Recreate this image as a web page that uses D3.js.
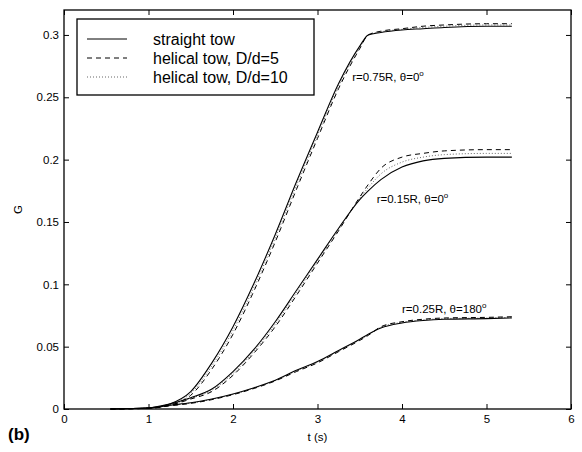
<!DOCTYPE html>
<html lang="en">
<head>
	<meta charset="UTF-8">
	<title>G vs t</title>
	<script src="https://cdn.jsdelivr.net/npm/d3@7"></script>
	<style>
		body {
			margin: 0;
			background-color: #ffffff;
		}
		.axis text {
			font-family: 'Liberation Sans', Arial, sans-serif;
			font-size: 11.5px;
			fill: #000;
		}
		.axis line {
			stroke: #000;
			stroke-width: 1px;
		}
		.axis path {
			display: none;
		}
		.curve {
			fill: none;
			stroke: #000;
			stroke-width: 1px;
		}
		.note {
			font-family: 'Liberation Sans', Arial, sans-serif;
			font-size: 11.5px;
			fill: #000;
		}
		.legend text {
			font-family: 'Liberation Sans', Arial, sans-serif;
			font-size: 16px;
			fill: #000;
		}
	</style>
</head>
<body>
<script>

	// sample times (s)
	var times = [0.55, 1.0, 1.25, 1.5, 1.75, 2.0, 2.25, 2.5, 2.75, 3.0, 3.25, 3.5, 3.6, 3.75, 4.0, 4.25, 4.5, 5.0, 5.3];

	// r=0.75R, theta=0
	var g75Straight = [0, 0.0008, 0.004, 0.014, 0.037, 0.066, 0.101, 0.140, 0.182, 0.222, 0.261, 0.291, 0.300, 0.302, 0.304, 0.305, 0.306, 0.307, 0.307];
	var g75Helix5   = [0, 0.0006, 0.003, 0.011, 0.032, 0.060, 0.095, 0.134, 0.176, 0.217, 0.257, 0.289, 0.300, 0.303, 0.305, 0.307, 0.308, 0.309, 0.309];
	var g75Helix10  = [0, 0.0007, 0.0035, 0.0125, 0.0345, 0.063, 0.098, 0.137, 0.179, 0.2195, 0.259, 0.290, 0.300, 0.3025, 0.3045, 0.306, 0.307, 0.308, 0.308];

	// r=0.15R, theta=0
	var g15Straight = [0, 0.0008, 0.004, 0.009, 0.016, 0.030, 0.048, 0.070, 0.095, 0.120, 0.145, 0.168, 0.175, 0.184, 0.194, 0.199, 0.201, 0.202, 0.202];
	var g15Helix5   = [0, 0.0006, 0.003, 0.008, 0.014, 0.027, 0.045, 0.066, 0.091, 0.117, 0.143, 0.170, 0.180, 0.193, 0.202, 0.205, 0.207, 0.208, 0.208];
	var g15Helix10  = [0, 0.0007, 0.0035, 0.0085, 0.015, 0.0285, 0.0465, 0.068, 0.093, 0.1185, 0.144, 0.169, 0.1775, 0.1885, 0.198, 0.202, 0.204, 0.205, 0.205];

	// r=0.25R, theta=180
	var g25Straight = [0, 0.0008, 0.003, 0.005, 0.008, 0.012, 0.017, 0.023, 0.031, 0.038, 0.047, 0.056, 0.060, 0.065, 0.069, 0.071, 0.072, 0.0725, 0.073];
	var g25Helix5   = [0, 0.0006, 0.0025, 0.0045, 0.0075, 0.0115, 0.0165, 0.0225, 0.030, 0.037, 0.046, 0.055, 0.059, 0.066, 0.070, 0.072, 0.073, 0.0735, 0.074];
	var g25Helix10  = [0, 0.0007, 0.00275, 0.00475, 0.00775, 0.01175, 0.01675, 0.02275, 0.0305, 0.0375, 0.0465, 0.0555, 0.0595, 0.0655, 0.0695, 0.0715, 0.0725, 0.073, 0.0735];

	var legendLabels = ['straight tow', 'helical tow, D/d=5', 'helical tow, D/d=10'];
	var xTicks = [0, 1, 2, 3, 4, 5, 6];
	var yTicks = [0, 0.05, 0.1, 0.15, 0.2, 0.25, 0.3];

	// annotations: [t, G, text before theta, theta value]
	var notes = [
		[3.41, 0.263, 'r=0.75R, ', '0'],
		[3.70, 0.1656, 'r=0.15R, ', '0'],
		[4.00, 0.0768, 'r=0.25R, ', '180']
	];

	var margin = {top: 10, right: 11, bottom: 43, left: 64};
	var width = 582 - margin.left - margin.right,
			height = 452 - margin.top - margin.bottom;

	var root = d3.select('body').append('svg')
		.attr('width', 582)
		.attr('height', 452);

	var svg = root.append('g')
		.attr('transform', 'translate(' + margin.left + ',' + margin.top + ')');

	var x = d3.scaleLinear().domain([0, 6]).range([0, width]);
	var y = d3.scaleLinear().domain([0, 0.32]).range([height, 0]);

	var fmt = function(d) { return String(+d.toFixed(2)); };

	svg.append('g')
		.attr('class', 'axis')
		.attr('transform', 'translate(0,' + height + ')')
		.call(d3.axisBottom(x).tickValues(xTicks).tickSize(-5).tickPadding(6).tickFormat(fmt));

	svg.append('g')
		.attr('class', 'axis')
		.call(d3.axisTop(x).tickValues(xTicks).tickSize(-5).tickFormat(''));

	svg.append('g')
		.attr('class', 'axis')
		.call(d3.axisLeft(y).tickValues(yTicks).tickSize(-5).tickPadding(5).tickFormat(fmt));

	svg.append('g')
		.attr('class', 'axis')
		.attr('transform', 'translate(' + width + ',0)')
		.call(d3.axisRight(y).tickValues(yTicks).tickSize(-5).tickFormat(''));

	svg.append('rect')
		.attr('width', width)
		.attr('height', height)
		.style('fill', 'none')
		.style('stroke', '#000')
		.style('stroke-width', 1.3);

	var line = d3.line()
		.x(function(d) { return x(d[0]); })
		.y(function(d) { return y(d[1]); })
		.curve(d3.curveMonotoneX);

	var styles = [
		{dash: null, color: '#000', width: 1.1},
		{dash: '5,4', color: '#000', width: 1},
		{dash: '1,2', color: '#666', width: 1}
	];

	var series = [
		[g75Straight, 0], [g75Helix5, 1], [g75Helix10, 2],
		[g15Straight, 0], [g15Helix5, 1], [g15Helix10, 2],
		[g25Straight, 0], [g25Helix5, 1], [g25Helix10, 2]
	];

	// draw dotted first, solid on top
	series.slice().sort(function(a, b) { return b[1] - a[1]; }).forEach(function(s) {
		var st = styles[s[1]];
		svg.append('path')
			.datum(times.map(function(t, i) { return [t, s[0][i]]; }))
			.attr('class', 'curve')
			.attr('d', line)
			.style('stroke', st.color)
			.style('stroke-width', st.width)
			.style('stroke-dasharray', st.dash);
	});

	notes.forEach(function(n) {
		var txt = svg.append('text')
			.attr('class', 'note')
			.attr('x', x(n[0]))
			.attr('y', y(n[1]));
		txt.append('tspan').text(n[2] + '\u03b8=' + n[3]);
		txt.append('tspan')
			.attr('dy', -5)
			.style('font-size', '8px')
			.text('o');
	});

	// axis titles
	root.append('text')
		.attr('x', margin.left + x(3))
		.attr('y', 441)
		.style('text-anchor', 'middle')
		.style('font-family', "'Liberation Sans', Arial, sans-serif")
		.style('font-size', '11.5px')
		.text('t (s)');

	root.append('text')
		.attr('transform', 'translate(22,' + (margin.top + y(0.16)) + ') rotate(-90)')
		.style('text-anchor', 'middle')
		.style('font-family', "'Liberation Sans', Arial, sans-serif")
		.style('font-size', '11.5px')
		.text('G');

	root.append('text')
		.attr('x', 8)
		.attr('y', 440)
		.style('font-family', "'Liberation Sans', Arial, sans-serif")
		.style('font-size', '17px')
		.style('font-weight', 'bold')
		.text('(b)');

	// legend
	var legend = svg.append('g')
		.attr('class', 'legend')
		.attr('transform', 'translate(13,9)');

	legend.append('rect')
		.attr('width', 237)
		.attr('height', 76)
		.style('fill', '#fff')
		.style('stroke', '#000')
		.style('stroke-width', 1.3);

	legendLabels.forEach(function(label, i) {
		var st = styles[i];
		var row = legend.append('g')
			.attr('transform', 'translate(0,' + (20 + i * 19) + ')');
		row.append('line')
			.attr('x1', 10).attr('x2', 50)
			.attr('y1', 0).attr('y2', 0)
			.style('stroke', st.color)
			.style('stroke-width', 1)
			.style('stroke-dasharray', st.dash);
		row.append('text')
			.attr('x', 76)
			.attr('y', 6)
			.text(label);
	});
</script>
</body>
</html>
